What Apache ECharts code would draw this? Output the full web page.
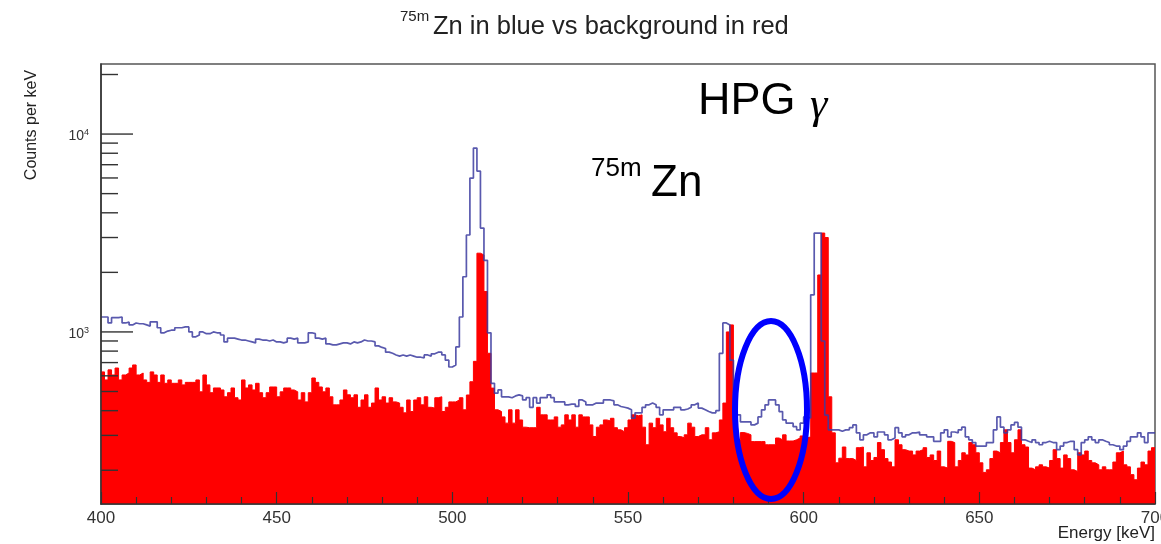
<!DOCTYPE html>
<html><head><meta charset="utf-8">
<script src="https://cdn.jsdelivr.net/npm/echarts@6/dist/echarts.min.js"></script>
<style>html,body{margin:0;padding:0;background:#fff}#c{width:1161px;height:544px}</style>
</head><body><div id="c"></div>
<script>
// ---- data (1 keV bins, low edge of first bin at 400 keV) ----
const binStart = 400;
const binWidth = 1;
const xMin = 400, xMax = 700;
const yMin = 135, yMax = 22600;

// 75mZn spectrum (blue outline), counts per keV
const zincCounts = [
1190,1190,1110,1180,1180,1190,1110,1120,1085,1110,
1100,1100,1085,1070,1125,1125,1050,990,1010,1020,
1020,1050,1050,1060,1060,1000,945,965,1000,980,
980,1000,990,990,965,890,930,930,920,910,
910,900,890,880,920,910,910,900,910,890,
890,880,890,930,920,930,880,880,890,990,
980,930,920,930,870,860,860,870,880,880,
870,890,880,890,910,900,900,890,850,835,
825,790,780,765,755,765,755,765,755,745,
745,740,765,755,775,790,790,765,720,665,
680,840,1190,1900,3090,5990,8500,6500,3350,2300,
990,550,490,509,470,470,465,475,481,475,
453,465,416,465,437,465,465,481,465,443,
443,443,428,432,432,420,453,443,428,428,
437,437,437,453,453,448,428,420,416,412,
404,367,390,390,416,428,437,428,416,381,
404,404,404,416,416,404,408,416,428,437,
412,404,396,390,390,400,780,1110,1085,720,
453,381,351,351,351,339,346,372,404,428,
453,453,428,396,359,346,346,332,320,346,
372,367,1540,3160,3160,900,380,320,320,320,
315,320,320,328,339,309,285,302,309,309,
295,312,312,302,285,291,328,309,295,302,
309,309,312,302,302,295,295,280,280,309,
320,295,312,309,320,330,295,285,276,265,
265,265,276,276,320,372,330,309,320,339,
349,330,285,280,276,285,276,269,276,280,
276,276,254,265,276,280,280,254,239,276,
285,295,285,276,285,280,276,269,265,265,
254,265,280,295,295,309,295,276,309,309
];

// background spectrum (red filled), counts per keV
const backgroundCounts = [
628,572,643,606,657,572,606,620,657,681,
606,620,572,556,628,606,556,606,550,572,
550,550,572,540,556,556,556,572,498,606,
540,493,521,521,509,470,493,521,465,453,
572,521,540,509,550,493,465,493,527,527,
470,498,521,521,509,498,453,493,443,493,
585,556,527,498,521,470,428,428,453,509,
481,465,481,416,453,481,416,437,521,453,
470,437,465,443,437,416,390,453,396,453,
465,428,470,416,412,465,470,396,416,443,
443,453,465,404,480,560,710,2500,2450,1600,
780,520,404,396,372,346,404,346,404,359,
330,328,328,328,416,381,381,359,359,372,
330,339,381,359,381,330,381,372,372,339,
296,330,339,359,355,366,328,320,313,328,
359,381,377,381,330,269,346,328,366,339,
313,366,328,309,296,292,302,346,330,296,
302,302,328,285,309,313,359,437,1000,1085,
320,285,310,307,302,279,279,279,279,269,
269,269,291,285,302,281,281,285,291,298,
291,295,620,620,1940,3160,3000,470,309,218,
230,262,229,229,224,260,262,208,245,224,
232,276,254,229,220,208,285,269,254,250,
250,239,250,254,260,232,239,224,250,208,
205,280,276,208,224,245,239,276,269,245,
218,195,201,229,250,245,276,320,276,245,
285,320,269,262,205,201,208,213,208,205,
224,254,229,205,239,229,201,197,245,239,
250,224,218,213,201,208,201,201,220,245,
250,213,208,190,179,205,220,213,250,260
];

const yMajorTicks = [1000, 10000];
const yMajorExponents = ['3', '4'];
const yMinorTicks = [200,300,400,500,600,700,800,900,2000,3000,4000,5000,6000,7000,8000,9000,20000];
const xLabelStep = 50;

// ---- build series data from arrays ----
function stepData(arr) {
  const d = arr.map((v, i) => [binStart + i * binWidth, v]);
  d.push([binStart + arr.length * binWidth, arr[arr.length - 1]]);
  return d;
}
const blueData = stepData(zincCounts);
const redData = stepData(backgroundCounts);

const FONT = '"Liberation Sans", Arial, Helvetica, sans-serif';
const AX = '#333333';

const chart = echarts.init(document.getElementById('c'), null, {renderer: 'canvas'});
chart.setOption({
  animation: false,
  backgroundColor: '#ffffff',
  grid: {left: 101, right: 6, top: 64, bottom: 40, show: true, borderColor: '#555', borderWidth: 1.5,
    backgroundColor: 'transparent', containLabel: false, outerBoundsMode: 'none'},
  xAxis: {
    type: 'value', min: xMin, max: xMax, interval: xLabelStep, z: 10,
    axisLine: {show: true, lineStyle: {color: AX, width: 1.5}},
    axisTick: {show: true, inside: true, length: 12, lineStyle: {color: AX, width: 1.2}},
    minorTick: {show: true, splitNumber: 5, length: 7, lineStyle: {color: AX, width: 1.2}},
    axisLabel: {show: true, fontSize: 17, fontFamily: FONT, color: '#333', margin: 6, hideOverlap: false},
    splitLine: {show: false}
  },
  yAxis: {
    type: 'log', logBase: 10, min: yMin, max: yMax, z: 10,
    axisLine: {show: true, lineStyle: {color: AX, width: 1.5}},
    axisTick: {show: false}, axisLabel: {show: false}, splitLine: {show: false}, minorTick: {show: false}
  },
  series: [
    {
      name: 'background', type: 'line', z: 2, step: 'end', data: redData,
      showSymbol: false, symbol: 'none', clip: true,
      lineStyle: {color: '#ff0000', width: 1},
      areaStyle: {color: '#ff0000', opacity: 1, origin: 'start'}
    },
    {
      name: '75mZn', type: 'line', z: 3, step: 'end', data: blueData,
      showSymbol: false, symbol: 'none', clip: true,
      lineStyle: {color: 'rgba(60,60,160,0.85)', width: 1.7}
    },
    {
      name: 'yMinor', type: 'custom', z: 5, clip: false,
      data: yMinorTicks.map(v => [xMin, v]),
      encode: {x: 0, y: 1},
      renderItem: function (params, api) {
        const p = api.coord([api.value(0), api.value(1)]);
        return {type: 'line', shape: {x1: p[0], y1: p[1], x2: p[0] + 17, y2: p[1]},
          style: {stroke: AX, lineWidth: 1.4}};
      }
    },
    {
      name: 'yMajor', type: 'custom', z: 5, clip: false,
      data: yMajorTicks.map((v, i) => [xMin, v, i]),
      encode: {x: 0, y: 1},
      renderItem: function (params, api) {
        const p = api.coord([api.value(0), api.value(1)]);
        const idx = api.value(2);
        return {type: 'group', children: [
          {type: 'line', shape: {x1: p[0], y1: p[1], x2: p[0] + 32, y2: p[1]}, style: {stroke: AX, lineWidth: 1.4}},
          {type: 'text', x: p[0] - 17, y: p[1] + 2.5, style: {text: '10', fontSize: 14, fontFamily: FONT, fill: '#333', align: 'right', verticalAlign: 'middle'}},
          {type: 'text', x: p[0] - 17, y: p[1] - 1.5, style: {text: yMajorExponents[idx], fontSize: 9, fontFamily: FONT, fill: '#333', align: 'left', verticalAlign: 'middle'}}
        ]};
      }
    }
  ],
  graphic: [
    {type: 'text', x: 400, y: 17, z: 20, style: {text: '75m', fontSize: 15, fontFamily: FONT, fill: '#222', align: 'left', verticalAlign: 'middle'}},
    {type: 'text', x: 433, y: 27, z: 20, style: {text: 'Zn in blue vs background in red', fontSize: 25.5, fontFamily: FONT, fill: '#222', align: 'left', verticalAlign: 'middle'}},
    {type: 'text', x: 32, y: 125, rotation: Math.PI / 2, z: 20, style: {text: 'Counts per keV', fontSize: 16, fontFamily: FONT, fill: '#222', align: 'center', verticalAlign: 'middle'}},
    {type: 'text', x: 1155, y: 533, z: 20, style: {text: 'Energy [keV]', fontSize: 17, fontFamily: FONT, fill: '#222', align: 'right', verticalAlign: 'middle'}},
    {type: 'text', x: 698, y: 102, z: 20, style: {text: 'HPG', fontSize: 45, fontFamily: FONT, fill: '#000', align: 'left', verticalAlign: 'middle'}},
    {type: 'text', x: 810, y: 106, z: 20, style: {text: 'γ', fontSize: 44, fontStyle: 'italic', fontFamily: '"Liberation Serif", "DejaVu Serif", serif', fill: '#000', align: 'left', verticalAlign: 'middle'}},
    {type: 'text', x: 591, y: 169, z: 20, style: {text: '75m', fontSize: 26, fontFamily: FONT, fill: '#000', align: 'left', verticalAlign: 'middle'}},
    {type: 'text', x: 651, y: 184, z: 20, style: {text: 'Zn', fontSize: 44, fontFamily: FONT, fill: '#000', align: 'left', verticalAlign: 'middle'}},
    {type: 'ellipse', z: 30, shape: {cx: 771, cy: 410, rx: 36, ry: 89}, style: {fill: 'none', stroke: '#0000ff', lineWidth: 6}}
  ]
});
</script>
</body></html>
